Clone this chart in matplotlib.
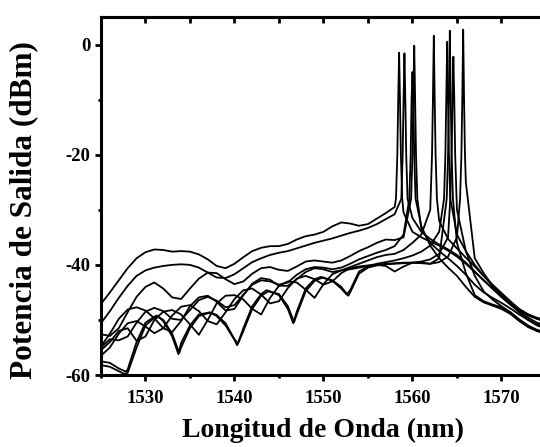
import numpy as np
import matplotlib
matplotlib.use("Agg")
from matplotlib import pyplot as plt
from matplotlib.ticker import MultipleLocator

plt.rcParams['font.family'] = ['Liberation Serif', 'DejaVu Serif']
plt.rcParams['font.weight'] = 'bold'
plt.rcParams['axes.unicode_minus'] = False

# wavelength grid of the OSA traces (nm)
wl = np.arange(1525, 1576)

# traces in dBm on the 1 nm grid, one per lasing wavelength
trace_a = [-47.1, -45.0, -42.8, -40.6, -38.8, -37.7, -37.2, -37.3, -37.6, -37.5,
           -37.6, -38.1, -39.0, -40.2, -40.6, -39.8, -38.6, -37.5, -36.9, -36.6,
           -36.6, -36.2, -35.4, -34.8, -34.5, -34.0, -33.0, -32.3, -32.5, -32.9,
           -32.6, -31.6, -30.6, -29.5, -30.5, -34.0, -35.0, -35.8, -36.5, -37.4,
           -38.5, -39.8, -41.3, -42.8, -44.3, -45.8, -47.0, -48.1, -49.0, -49.6, -50.0]
trace_b = [-50.6, -48.4, -46.0, -43.8, -42.0, -41.0, -40.5, -40.2, -40.0, -39.9,
           -40.0, -40.5, -41.4, -42.3, -42.4, -41.7, -40.6, -39.5, -38.8, -38.2,
           -37.8, -37.5, -37.0, -36.5, -36.0, -35.6, -35.2, -34.7, -34.2, -33.8,
           -33.3, -32.6, -31.7, -30.8, -10.0, -31.5, -34.0, -35.3, -36.3, -37.2,
           -38.2, -39.6, -41.2, -42.8, -44.3, -45.8, -47.2, -48.3, -49.2, -49.8, -50.2]
trace_c = [-52.6, -52.9, -51.5, -48.6, -45.8, -44.0, -43.2, -44.3, -45.9, -46.2,
           -44.3, -42.5, -41.4, -41.5, -42.6, -43.5, -43.0, -41.6, -40.6, -40.4,
           -40.9, -41.1, -40.3, -39.4, -39.2, -39.4, -39.6, -39.2, -38.4, -37.5,
           -36.8, -36.0, -35.4, -35.5, -35.0, -20.0, -33.5, -36.0, -37.5, -38.8,
           -40.2, -41.8, -43.6, -45.0, -46.0, -46.9, -47.9, -49.0, -50.0, -50.8, -51.2]
trace_d = [-54.8, -52.5, -49.8, -48.1, -47.7, -48.3, -49.7, -51.5, -52.2, -50.2,
           -47.5, -45.9, -45.6, -46.7, -48.3, -48.0, -45.5, -43.4, -42.4, -42.7,
           -43.8, -43.8, -42.6, -41.3, -40.6, -40.8, -41.3, -41.0, -40.4, -39.8,
           -39.2, -38.6, -38.2, -38.0, -37.3, -36.0, -34.5, -30.0, -32.0, -35.3,
           -37.0, -38.7, -40.3, -42.0, -43.6, -45.1, -46.6, -48.0, -49.0, -49.8, -50.3]
trace_e = [-55.5, -54.0, -52.0, -51.5, -53.8, -53.0, -50.0, -48.5, -48.2, -49.0,
           -50.8, -52.7, -50.0, -47.0, -45.6, -45.5, -46.3, -48.0, -49.0, -46.0,
           -43.8, -43.0, -43.2, -44.5, -46.0, -43.5, -41.7, -41.0, -40.8, -40.5,
           -40.2, -39.8, -39.5, -39.2, -38.8, -38.3, -37.6, -36.5, -34.0, -10.0,
           -34.5, -37.5, -40.0, -42.0, -43.8, -45.5, -47.0, -48.5, -49.6, -50.5, -51.0]
trace_f = [-57.5, -57.8, -58.8, -59.0, -54.0, -50.5, -49.4, -50.2, -53.0, -54.2,
           -51.0, -49.0, -48.7, -49.3, -51.0, -53.6, -51.5, -47.5, -45.3, -44.8,
           -45.5, -48.0, -48.5, -44.3, -42.6, -42.3, -42.9, -44.3, -44.6, -41.2,
           -40.3, -40.0, -39.8, -39.7, -39.6, -39.6, -39.7, -39.8, -39.5, -38.5,
           -35.0, -25.0, -38.8, -41.5, -43.8, -45.8, -47.2, -48.6, -50.0, -51.0, -51.6]
trace_g = [-58.2, -58.5, -59.3, -59.6, -55.0, -51.0, -49.6, -50.0, -52.5, -55.0,
           -51.5, -49.3, -48.8, -49.1, -50.6, -53.5, -52.0, -48.0, -45.6, -44.9,
           -45.3, -47.5, -49.0, -44.8, -42.9, -42.4, -42.8, -44.0, -45.0, -41.6,
           -40.5, -40.1, -39.9, -39.8, -39.7, -39.6, -39.4, -39.0, -38.0, -35.0,
           -30.0, -37.5, -42.0, -44.8, -46.3, -47.5, -48.6, -49.9, -51.0, -51.8, -52.2]
trace_h = [-56.5, -55.0, -52.5, -50.6, -50.2, -51.2, -52.4, -51.5, -49.2, -47.6,
           -47.3, -48.4, -50.2, -50.8, -48.6, -46.2, -44.6, -44.3, -45.4, -47.0,
           -46.6, -44.2, -42.5, -42.0, -42.6, -43.6, -43.0, -41.5, -40.6, -40.3,
           -40.1, -40.0, -40.2, -41.2, -40.3, -39.6, -39.6, -39.8, -38.8, -20.0,
           -36.0, -41.5, -45.5, -46.6, -47.2, -47.7, -48.6, -50.0, -51.2, -52.0, -52.4]
trace_i = [-55.0, -53.5, -53.7, -53.0, -50.5, -48.5, -47.8, -48.4, -49.8, -50.0,
           -48.2, -46.4, -45.8, -46.5, -47.7, -47.3, -45.4, -43.6, -42.8, -43.0,
           -43.6, -43.2, -41.8, -40.8, -40.4, -40.5, -40.8, -40.5, -39.8, -39.0,
           -38.4, -37.8, -37.3, -36.6, -34.5, -5.0, -33.0, -36.5, -38.8, -40.5,
           -42.0, -44.0, -45.8, -46.8, -47.4, -48.0, -48.9, -50.2, -51.3, -52.0, -52.5]

# extra samples around the laser lines and the sharp dips (wl, dBm)
extra_a = [(1558.15, -28), (1558.3, -20), (1558.4, -10), (1558.5, -1.5), (1558.6, -10), (1558.7, -20), (1558.85, -28)]
extra_b = [(1558.75, -28), (1558.9, -20), (1559.1, -1.6), (1559.2, -10), (1559.3, -20), (1559.45, -28)]
extra_c = [(1559.85, -28), (1560.1, -10), (1560.2, -0.2), (1560.3, -10), (1560.4, -20), (1560.55, -28)]
extra_d = [(1562.2, -20), (1562.3, -10), (1562.4, 1.6), (1562.5, -10), (1562.6, -20), (1562.75, -28)]
extra_e = [(1563.55, -28), (1563.7, -20), (1563.8, -10), (1563.9, 0.5), (1564.1, -20), (1564.25, -28)]
extra_f = [(1527.8, -59.4), (1531.3, -49.2), (1533.7, -56.2), (1537.2, -48.6), (1540.3, -54.6),
           (1543.6, -44.6), (1546.6, -50.6), (1549.7, -42.2), (1552.6, -45.4),
           (1565.35, -28), (1565.5, -20), (1565.6, -10), (1565.7, 2.7), (1565.8, -10), (1565.9, -20)]
extra_g = [(1527.6, -59.8), (1531.5, -49.5), (1533.8, -56.0), (1537.4, -48.7), (1540.4, -54.3),
           (1543.8, -44.8), (1546.7, -50.4), (1549.9, -42.3), (1552.8, -45.6),
           (1564.25, -28), (1564.4, -20), (1564.5, -10), (1564.6, -2.2), (1564.7, -10), (1564.8, -20)]
extra_h = [(1563.85, -28), (1564.1, -10), (1564.2, 2.5), (1564.3, -10), (1564.4, -20), (1564.55, -28)]
extra_i = [(1559.65, -28), (1559.8, -20), (1559.9, -10), (1560.1, -10), (1560.2, -20), (1560.35, -28)]

traces = [(trace_a, extra_a), (trace_b, extra_b), (trace_c, extra_c),
          (trace_d, extra_d), (trace_e, extra_e), (trace_f, extra_f),
          (trace_g, extra_g), (trace_h, extra_h), (trace_i, extra_i)]

fig = plt.figure(figsize=(5.4, 4.47), dpi=100)
ax = fig.add_axes([0.187, 0.161, 0.824, 0.801])

for vals, extra in traces:
    x = np.concatenate([wl, [p[0] for p in extra]])
    y = np.concatenate([vals, [p[1] for p in extra]])
    order = np.argsort(x)
    ax.plot(x[order], y[order], color='black', lw=1.3, solid_joinstyle='round')

ax.set_xlim(1525, 1575)
ax.set_ylim(-60, 5)
ax.xaxis.set_major_locator(MultipleLocator(10))
ax.xaxis.set_minor_locator(MultipleLocator(5))
ax.yaxis.set_major_locator(MultipleLocator(20))
ax.yaxis.set_minor_locator(MultipleLocator(10))

for s in ax.spines.values():
    s.set_linewidth(2.2)
ax.tick_params(which='major', direction='out', length=4.5, width=2.0, labelsize=13.5, pad=3)
ax.tick_params(axis='x', which='major', pad=6)
ax.tick_params(which='minor', direction='out', length=2.5, width=2.0)
ax.tick_params(top=False, right=False)

top = ax.secondary_xaxis('top')
top.set_xticks(np.arange(1530, 1575, 5))
top.tick_params(direction='in', length=4, width=2.0, labeltop=False)
top.spines['top'].set_linewidth(2.2)

ax.set_xlabel('Longitud de Onda (nm)', fontsize=20, fontweight='bold', labelpad=8)
ax.set_ylabel('Potencia de Salida (dBm)', fontsize=22.5, fontweight='bold')
ax.yaxis.set_label_coords(-0.142, 0.46)

fig.savefig('out.png', dpi=100)
